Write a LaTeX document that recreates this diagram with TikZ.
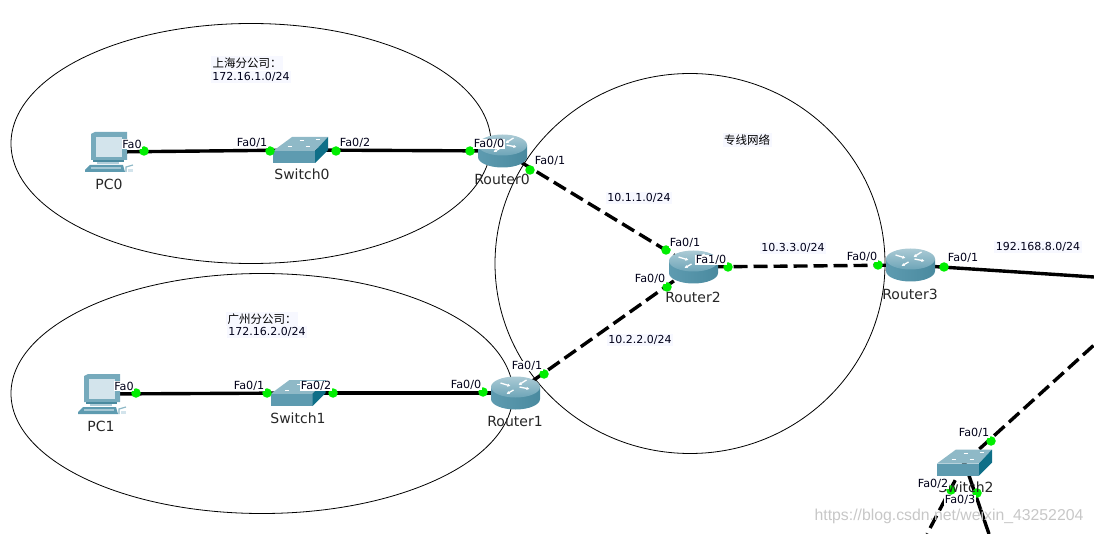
\documentclass[tikz,border=0pt]{standalone}
\usepackage{fontspec}
\usetikzlibrary{arrows.meta}
\setmainfont{DejaVu Sans}
\newfontfamily\cjkfont{Noto Sans CJK SC}
\newfontfamily\wmfont{Liberation Sans}
\definecolor{devA}{HTML}{5E9BB0}
\definecolor{devB}{HTML}{4A8A9F}
\definecolor{devC}{HTML}{D3E4EC}
\definecolor{devD}{HTML}{8FB9C7}
\definecolor{devE}{HTML}{0F6F88}
\definecolor{portg}{HTML}{00EE00}
\definecolor{notebg}{HTML}{F7F8FF}
\tikzset{
  zone/.style={draw=black,line width=0.8pt},
  cable/.style={line width=3.4pt,black},
  dcable/.style={cable,dash pattern=on 14pt off 6pt},
  devnode/.style={inner sep=0pt,minimum size=1pt},
  port/.style={circle,fill=portg,inner sep=0pt,minimum size=9.5pt},
  portlabel/.style={fill=white,inner sep=0.6pt,font=\fontsize{11.2}{12}\selectfont,text=black!90!blue},
  netlabel/.style={fill=notebg,inner sep=1.5pt,font=\fontsize{11}{12}\selectfont,text=black!90!blue},
  zhlabel/.style={fill=notebg,inner sep=1.5pt,font=\cjkfont\fontsize{11.5}{12}\selectfont},
  devlabel/.style={inner sep=0pt,font=\fontsize{14}{15}\selectfont,text=black!85},
  watermark/.style={inner sep=0pt,font=\wmfont\fontsize{15.8}{16}\selectfont,text=black!22},
  routerarrow/.style={white,line width=1.3pt,-{Latex[length=3pt,width=3.5pt]}},
  router/.pic={
    \shade[left color=devA,middle color=devC,right color=devB]
      (-24.5,-6) -- (-24.5,6) arc[start angle=180,end angle=360,x radius=24.5pt,y radius=10.5pt] -- (24.5,-6) -- cycle;
    \shade[top color=devD!75!white,bottom color=devA!90!white] (0,-6) ellipse[x radius=24.5pt,y radius=10.5pt];
    \draw[routerarrow] (-15,-10) -- (-5,-7);
    \draw[routerarrow] (4,-6) -- (14,-4);
    \draw[routerarrow] (11,-13) -- (3,-8);
    \draw[routerarrow] (-2,-3) -- (-9,1);
  },
  switchdev/.pic={
    \fill[devD] (-8.5,-13) -- (27.5,-13) -- (14.5,1) -- (-27.5,1) -- cycle;
    \fill[devA] (-27.5,1) rectangle (14.5,13);
    \fill[devE] (14.5,1) -- (27.5,-13) -- (27.5,0) -- (14.5,13) -- cycle;
    \draw[white,line width=1pt] (-13,-3) -- (-9,-3) (5,-3) -- (9,-3) (-1,-9) -- (3,-9) (15,-10) -- (19,-10);
    \draw[devA!70!white,line width=0.7pt] (-20,0) -- (-7,-12) (-3,0) -- (9,-12);
  },
  pcdev/.pic={
    \fill[devA!85!white] (-18,-18) -- (-14,-20) -- (18,-20) -- (18,8) -- (-18,8) -- cycle;
    \fill[devC] (-13,-15) rectangle (13,5);
    \fill[devB] (-16,8) rectangle (15,10);
    \fill[devC!70!devA] (-12,10) rectangle (10,12);
    \fill[devA] (-24,18) -- (-19,13) -- (14,13) -- (16,20) -- (-24,20) -- cycle;
    \fill[devC!60!devA] (-18,15) rectangle (12,17);
    \draw[devD,line width=1.2pt] (17,20) -- (17,15) -- (24,13);
    \fill[devC] (19,17) rectangle (24,20);
  },
}
\begin{document}
\begin{tikzpicture}[x=1pt,y=-1pt]
\useasboundingbox (0,0) rectangle (1094,534);
% zones
\draw[zone] (251,143.5) ellipse[x radius=240pt,y radius=120pt];
\draw[zone] (262,393.5) ellipse[x radius=251pt,y radius=120pt];
\draw[zone] (690,263.5) ellipse[x radius=195pt,y radius=190pt];
% device anchors
\node[devnode] (PC0) at (109,152) {};
\node[devnode] (S0) at (300.5,150) {};
\node[devnode] (R0) at (502.5,151) {};
\node[devnode] (PC1) at (102,394) {};
\node[devnode] (S1) at (298,393) {};
\node[devnode] (R1) at (515.5,393) {};
\node[devnode] (R2) at (693.5,267) {};
\node[devnode] (R3) at (910.5,265) {};
\node[devnode] (S2) at (964.5,462.5) {};
\coordinate (E1) at (1094,277);
\coordinate (E2) at (1094,345);
\coordinate (E3) at (927,534);
\coordinate (E4) at (989,534);
% cables
\draw[cable] (PC0.center) -- (S0.center);
\draw[cable] (S0.center) -- (R0.center);
\draw[cable] (PC1.center) -- (S1.center);
\draw[cable] (S1.center) -- (R1.center);
\draw[dcable] (R0.center) -- (R2.center);
\draw[dcable] (R1.center) -- (R2.center);
\draw[dcable] (R2.center) -- (R3.center);
\draw[cable] (R3.center) -- (E1);
\draw[dcable] (S2.center) -- (E2);
\draw[dcable] (S2.center) -- (E3);
\draw[cable] (S2.center) -- (E4);
% devices
\pic at (PC0) {pcdev};
\pic at (PC1) {pcdev};
\pic at (S0) {switchdev};
\pic at (S1) {switchdev};
\pic at (S2) {switchdev};
\pic at (R0) {router};
\pic at (R1) {router};
\pic at (R2) {router};
\pic at (R3) {router};
% ports
\node[port] (p1) at (144,151) {};
\node[port] (p2) at (270,151) {};
\node[port] (p3) at (336,151) {};
\node[port] (p4) at (470,151) {};
\node[port] (p5) at (530,170) {};
\node[port] (p6) at (666,250) {};
\node[port] (p7) at (667,287) {};
\node[port] (p8) at (728,267) {};
\node[port] (p9) at (878,265) {};
\node[port] (p10) at (944,267) {};
\node[port] (p11) at (483,392) {};
\node[port] (p12) at (544,374) {};
\node[port] (p13) at (136,393) {};
\node[port] (p14) at (267,393) {};
\node[port] (p15) at (333,393) {};
\node[port] (p16) at (991,441) {};
\node[port] (p17) at (951,490) {};
\node[port] (p18) at (977,493) {};
% device labels
\node[devlabel] (t1) at (109,184) {PC0};
\node[devlabel] (t2) at (302,174) {Switch0};
\node[devlabel] (t3) at (502,179) {Router0};
\node[devlabel] (t4) at (101,426) {PC1};
\node[devlabel] (t5) at (298,418) {Switch1};
\node[devlabel] (t6) at (515,421) {Router1};
\node[devlabel] (t7) at (693,297) {Router2};
\node[devlabel] (t8) at (910,294) {Router3};
\node[devlabel] (t9) at (966,487) {Switch2};
% port labels
\node[portlabel] (l1) at (132,144) {Fa0};
\node[portlabel] (l2) at (252,143) {Fa0/1};
\node[portlabel] (l3) at (355,143) {Fa0/2};
\node[portlabel] (l4) at (489,144) {Fa0/0};
\node[portlabel] (l5) at (550,161) {Fa0/1};
\node[portlabel] (l6) at (685,243) {Fa0/1};
\node[portlabel] (l7) at (711,260) {Fa1/0};
\node[portlabel] (l8) at (650,279) {Fa0/0};
\node[portlabel] (l9) at (862,257) {Fa0/0};
\node[portlabel] (l10) at (963,258) {Fa0/1};
\node[portlabel] (l11) at (466,385) {Fa0/0};
\node[portlabel] (l12) at (527,366) {Fa0/1};
\node[portlabel] (l13) at (124,386) {Fa0};
\node[portlabel] (l14) at (249,386) {Fa0/1};
\node[portlabel] (l15) at (316,386) {Fa0/2};
\node[portlabel] (l16) at (974,433) {Fa0/1};
\node[portlabel] (l17) at (933,484) {Fa0/2};
\node[portlabel] (l18) at (960,500) {Fa0/3};
% network labels
\node[netlabel] (n1) at (639,198) {10.1.1.0/24};
\node[netlabel] (n2) at (793,248) {10.3.3.0/24};
\node[netlabel] (n3) at (640,340) {10.2.2.0/24};
\node[netlabel] (n4) at (1038,247) {192.168.8.0/24};
\node[zhlabel] (z1) at (747,140) {专线网络};
\node[zhlabel] (z2) at (247,63) {上海分公司：};
\node[netlabel] (n5) at (251,77) {172.16.1.0/24};
\node[zhlabel] (z3) at (262,319) {广州分公司：};
\node[netlabel] (n6) at (267,332) {172.16.2.0/24};
\node[watermark] (w) at (949,516) {https://blog.csdn.net/weixin\_43252204};
\end{tikzpicture}
\end{document}
